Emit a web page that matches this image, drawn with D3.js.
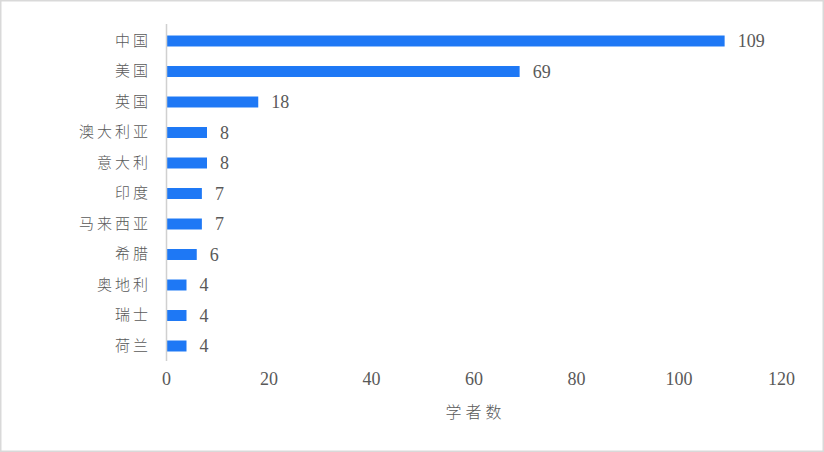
<!doctype html>
<meta charset="utf-8">
<script src="https://d3js.org/d3.v7.min.js"></script>
<style>
  body { margin: 0; background: #fff; }
  text { fill: #595959; }
</style>
<body>
</body>
<script>
var countries = ["中国", "美国", "英国", "澳大利亚", "意大利", "印度", "马来西亚", "希腊", "奥地利", "瑞士", "荷兰"];
var scholars = [109, 69, 18, 8, 8, 7, 7, 6, 4, 4, 4];
var xTicks = [0, 20, 40, 60, 80, 100, 120];
var xTitle = "学者数";

var numFont = "'Liberation Serif', 'Times New Roman', 'DejaVu Serif', serif";
var cjkFont = "'Noto Sans CJK SC', sans-serif";

var width = 824, height = 452;
var svg = d3.select("body").append("svg").attr("width", width).attr("height", height);

// outer frame
svg.append("rect")
    .attr("x", 0.75).attr("y", 0.75)
    .attr("width", width - 1.5).attr("height", height - 1.5)
    .style("fill", "#fff").style("stroke", "#d9d9d9").style("stroke-width", "1.5px");

var x = d3.scaleLinear().domain([0, 120]).range([166, 781]);
var y = d3.scaleBand().domain(countries).range([25.75, 361.25]).paddingInner(0.64).paddingOuter(0.32);

var data = countries.map(function(c, i) { return {name: c, value: scholars[i]}; });

// bars
svg.append("g").selectAll("rect")
    .data(data)
    .enter().append("rect")
    .attr("x", x(0))
    .attr("y", function(d) { return y(d.name); })
    .attr("width", function(d) { return x(d.value) - x(0); })
    .attr("height", y.bandwidth())
    .style("fill", "#1e78f5");

// value labels
svg.append("g").selectAll("text")
    .data(data)
    .enter().append("text")
    .attr("x", function(d) { return x(d.value) + 13; })
    .attr("y", function(d) { return y(d.name) + y.bandwidth() / 2; })
    .attr("dy", "0.36em")
    .style("font-family", numFont)
    .style("font-size", "18px")
    .text(function(d) { return d.value; });

// category axis
var yAxis = svg.append("g")
    .attr("transform", "translate(" + x(0) + ",0)")
    .call(d3.axisLeft(y).tickSize(0).tickPadding(15));
yAxis.select(".domain").attr("d", "M0.5,24V361").style("stroke", "#d0d0d0").style("stroke-width", "1.5px");
yAxis.selectAll("text")
    .style("font-family", cjkFont)
    .style("font-weight", "300")
    .style("font-size", "15px")
    .style("letter-spacing", "3px")
    .style("fill", "#595959");

// value axis (labels only)
var xAxis = svg.append("g")
    .attr("transform", "translate(0,372)")
    .call(d3.axisBottom(x).tickValues(xTicks).tickSize(0).tickPadding(0));
xAxis.select(".domain").remove();
xAxis.selectAll("text")
    .attr("dy", "0.71em")
    .style("font-family", numFont)
    .style("font-size", "18px")
    .style("fill", "#595959");

// axis title
svg.append("text")
    .attr("x", (x(0) + x(120)) / 2 + 2)
    .attr("y", 418)
    .attr("text-anchor", "middle")
    .style("font-family", cjkFont)
    .style("font-weight", "300")
    .style("font-size", "16px")
    .style("letter-spacing", "4px")
    .text(xTitle);
</script>
